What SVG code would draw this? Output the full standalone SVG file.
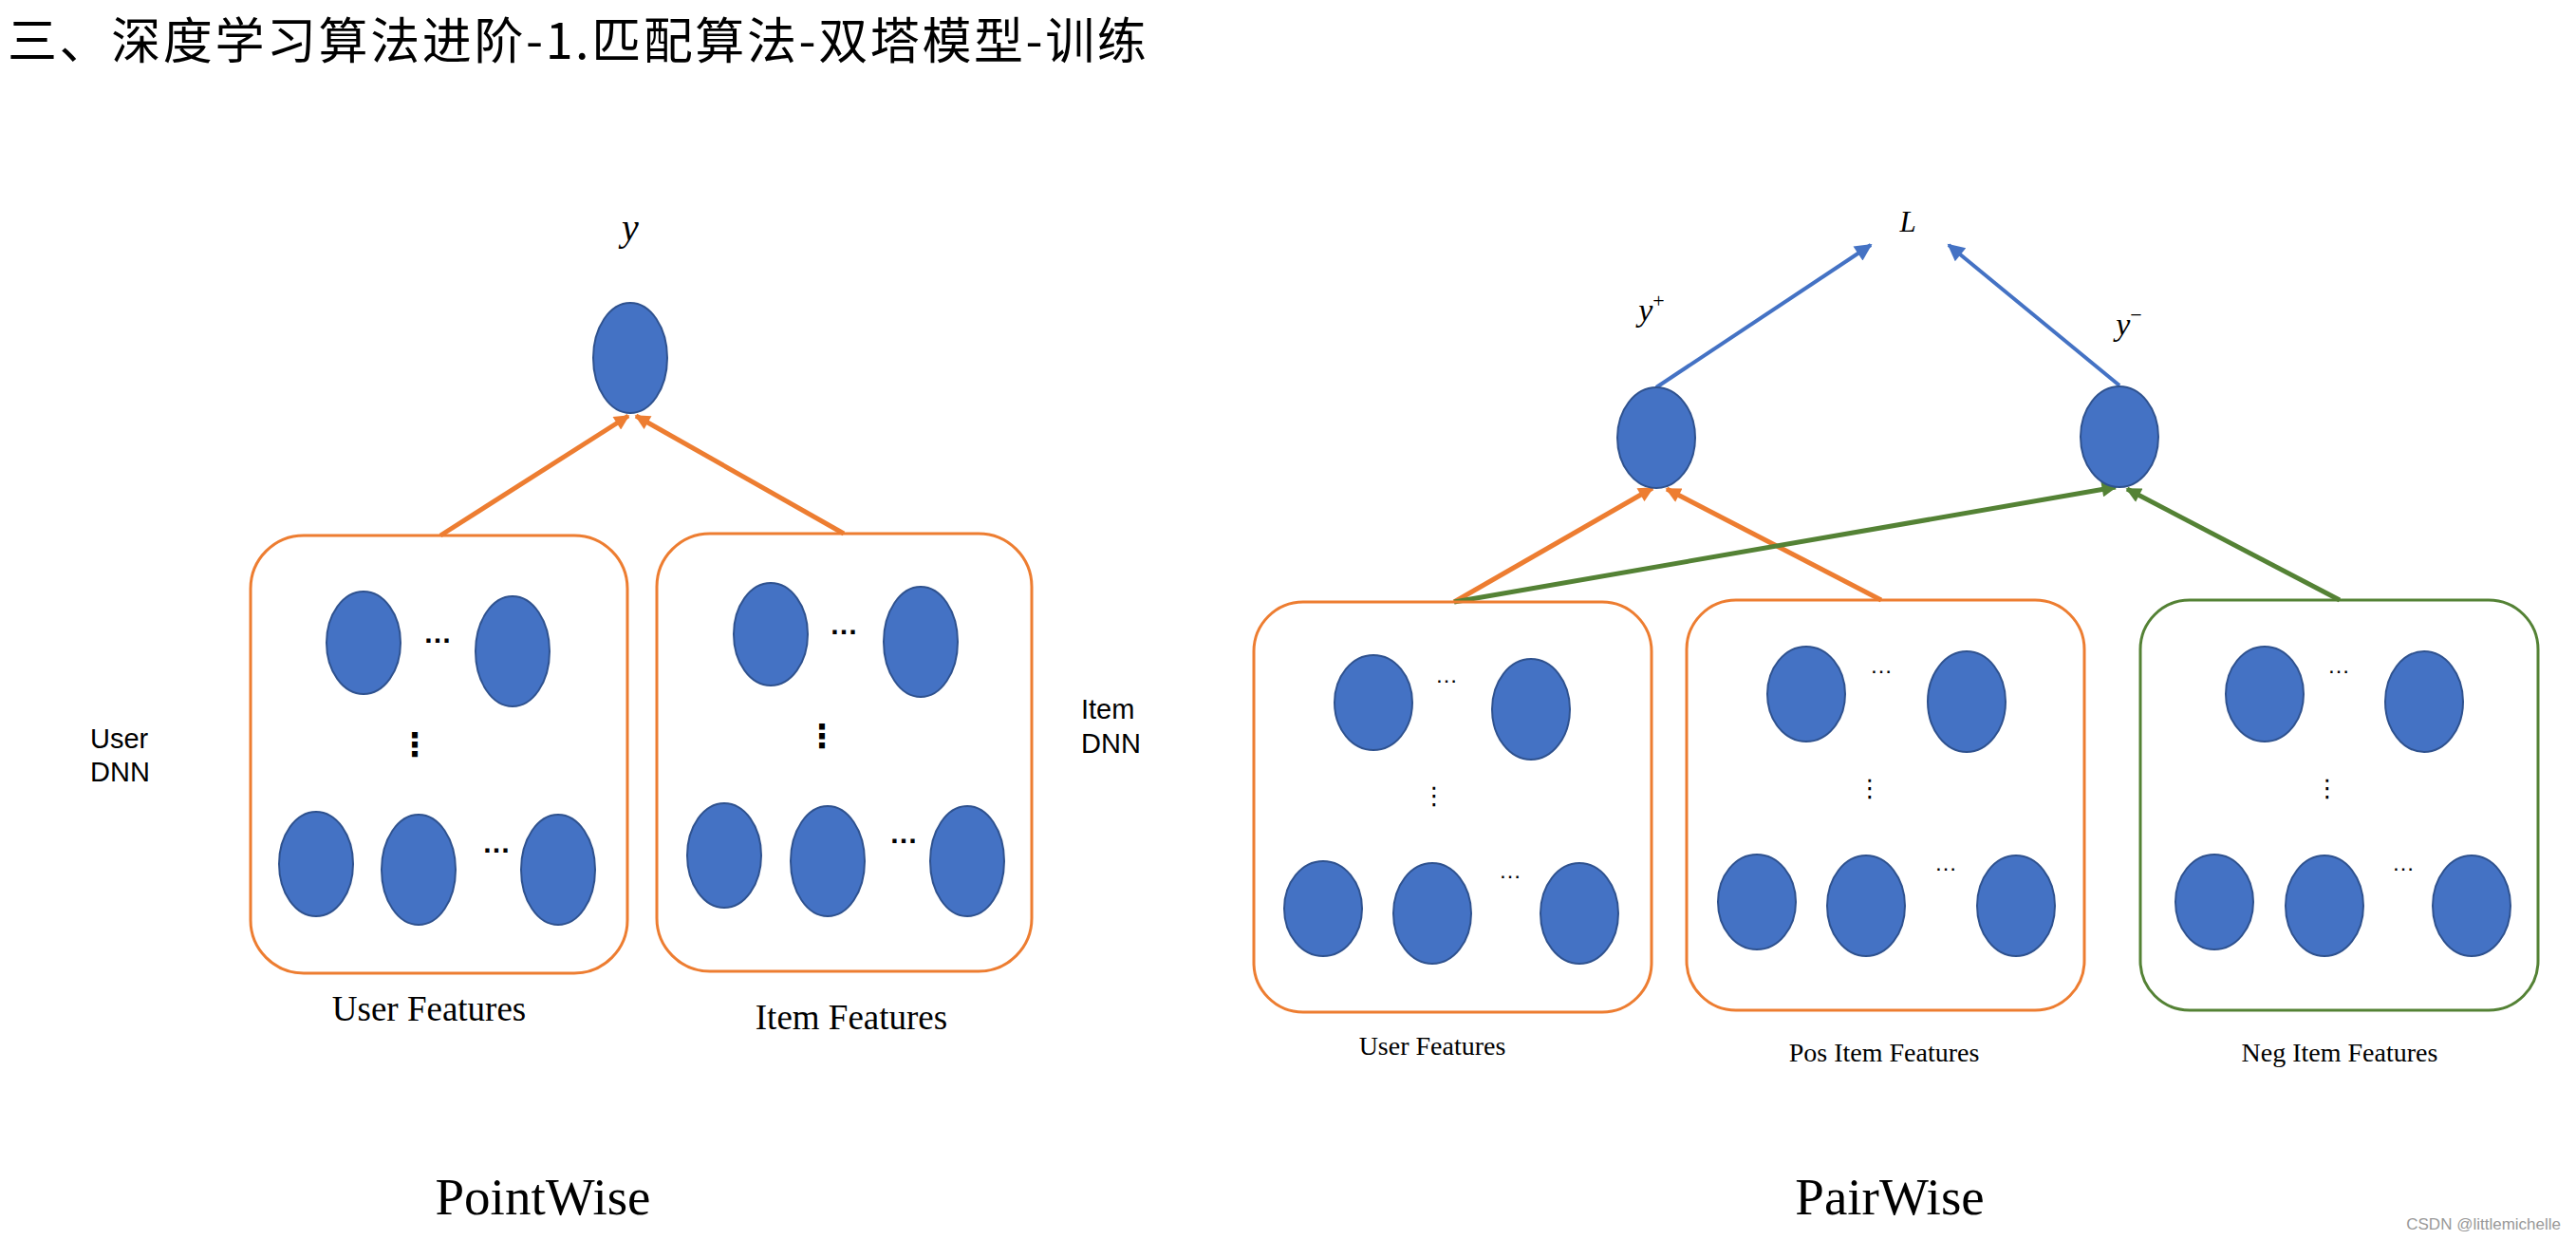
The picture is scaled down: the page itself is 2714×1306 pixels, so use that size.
<svg xmlns="http://www.w3.org/2000/svg" width="2714" height="1306" viewBox="0 0 2714 1306">
<defs>
<style>
.n{fill:#4472C4;stroke:#2F528F;stroke-width:2}
.bo{fill:none;stroke:#ED7D31;stroke-width:3}
.bg{fill:none;stroke:#548235;stroke-width:3}
.ao{stroke:#ED7D31;stroke-width:5;fill:none}
.ag{stroke:#548235;stroke-width:5;fill:none}
.ab{stroke:#4472C4;stroke-width:4;fill:none}
.hd{font-family:"Liberation Sans",sans-serif;font-size:30px;font-weight:bold;fill:#000;text-anchor:middle}
.vd{font-family:"DejaVu Sans",sans-serif;font-size:34px;font-weight:bold;fill:#000;text-anchor:middle}
.hd2{font-family:"Liberation Sans",sans-serif;font-size:24px;fill:#000;text-anchor:middle}
.vd2{font-family:"DejaVu Sans",sans-serif;font-size:26px;fill:#000;text-anchor:middle}
.lab{font-family:"Liberation Serif",serif;font-size:37px;fill:#000;text-anchor:middle}
.lab2{font-family:"Liberation Serif",serif;font-size:28px;fill:#000;text-anchor:middle}
.dnn{font-family:"Liberation Sans",sans-serif;font-size:29px;fill:#000}
.math{font-family:"Liberation Serif",serif;font-style:italic;fill:#000;text-anchor:middle}
.big{font-family:"Liberation Serif",serif;font-size:55px;fill:#000;text-anchor:middle}
</style>
<marker id="mo" viewBox="0 0 10 10" refX="9" refY="5" markerWidth="18" markerHeight="16" markerUnits="userSpaceOnUse" orient="auto"><path d="M0,0 L10,5 L0,10 z" fill="#ED7D31"/></marker>
<marker id="mg" viewBox="0 0 10 10" refX="9" refY="5" markerWidth="18" markerHeight="16" markerUnits="userSpaceOnUse" orient="auto"><path d="M0,0 L10,5 L0,10 z" fill="#548235"/></marker>
<marker id="mb" viewBox="0 0 10 10" refX="9" refY="5" markerWidth="20" markerHeight="18" markerUnits="userSpaceOnUse" orient="auto"><path d="M0,0 L10,5 L0,10 z" fill="#4472C4"/></marker>
</defs>
<rect width="2714" height="1306" fill="#fff"/>
<text x="8" y="62" font-family="'Noto Sans CJK SC',sans-serif" font-size="52" letter-spacing="2.6" fill="#000">三、深度学习算法进阶-1.匹配算法-双塔模型-训练</text>

<g id="connectors">
<line class="ao" x1="464" y1="564" x2="662" y2="438" marker-end="url(#mo)"/>
<line class="ao" x1="889" y1="562" x2="670" y2="438" marker-end="url(#mo)"/>
<line class="ab" x1="1745" y1="408" x2="1971" y2="258" marker-end="url(#mb)"/>
<line class="ab" x1="2233" y1="406" x2="2053" y2="258" marker-end="url(#mb)"/>
<line class="ao" x1="1532" y1="634" x2="1741" y2="514" marker-end="url(#mo)"/>
<line class="ao" x1="1982" y1="632" x2="1756" y2="515" marker-end="url(#mo)"/>
<line class="ag" x1="1532" y1="634" x2="2229" y2="513" marker-end="url(#mg)"/>
<line class="ag" x1="2465" y1="632" x2="2241" y2="515" marker-end="url(#mg)"/>
</g>

<g id="pw-output">
<ellipse class="n" cx="664" cy="377" rx="39" ry="58"/>
<text class="math" x="664" y="253" font-size="40">y</text>
</g>

<g id="pw-user">
<rect class="bo" x="264" y="564" width="397" height="461" rx="56"/>
<ellipse class="n" cx="383" cy="677" rx="39" ry="54"/>
<ellipse class="n" cx="540" cy="686" rx="39" ry="58"/>
<ellipse class="n" cx="333" cy="910" rx="39" ry="55"/>
<ellipse class="n" cx="441" cy="916" rx="39" ry="58"/>
<ellipse class="n" cx="588" cy="916" rx="39" ry="58"/>
<text class="hd" x="461" y="677">…</text>
<text class="hd" x="523" y="898">…</text>
<text class="vd" x="437" y="796">⋮</text>
<text class="lab" x="452" y="1075">User Features</text>
</g>

<g id="pw-item">
<rect class="bo" x="692" y="562" width="395" height="461" rx="56"/>
<ellipse class="n" cx="812" cy="668" rx="39" ry="54"/>
<ellipse class="n" cx="970" cy="676" rx="39" ry="58"/>
<ellipse class="n" cx="763" cy="901" rx="39" ry="55"/>
<ellipse class="n" cx="872" cy="907" rx="39" ry="58"/>
<ellipse class="n" cx="1019" cy="907" rx="39" ry="58"/>
<text class="hd" x="889" y="668">…</text>
<text class="hd" x="952" y="888">…</text>
<text class="vd" x="866" y="787">⋮</text>
<text class="lab" x="897" y="1084">Item Features</text>
</g>

<g id="labels-dnn">
<text class="dnn" x="95" y="788">User</text>
<text class="dnn" x="95" y="823">DNN</text>
<text class="dnn" x="1139" y="757">Item</text>
<text class="dnn" x="1139" y="793">DNN</text>
</g>

<g id="pr-loss">
<text class="math" x="2010" y="244" font-size="31">L</text>
</g>

<g id="pr-ypos">
<ellipse class="n" cx="1745" cy="461" rx="41" ry="53"/>
<text class="math" x="1740" y="338" font-size="34">y<tspan font-style="normal" font-size="22" dy="-14">+</tspan></text>
</g>

<g id="pr-yneg">
<ellipse class="n" cx="2233" cy="460" rx="41" ry="53"/>
<text class="math" x="2243" y="353" font-size="34">y<tspan font-style="normal" font-size="22" dy="-14">−</tspan></text>
</g>

<g id="pr-user">
<rect class="bo" x="1321" y="634" width="419" height="432" rx="52"/>
<ellipse class="n" cx="1447" cy="740" rx="41" ry="50"/>
<ellipse class="n" cx="1613" cy="747" rx="41" ry="53"/>
<ellipse class="n" cx="1394" cy="957" rx="41" ry="50"/>
<ellipse class="n" cx="1509" cy="962" rx="41" ry="53"/>
<ellipse class="n" cx="1664" cy="962" rx="41" ry="53"/>
<text class="hd2" x="1524" y="719">…</text>
<text class="hd2" x="1591" y="925">…</text>
<text class="vd2" x="1511" y="847">⋮</text>
<text class="lab2" x="1509" y="1111">User Features</text>
</g>

<g id="pr-pos">
<rect class="bo" x="1777" y="632" width="419" height="432" rx="52"/>
<ellipse class="n" cx="1903" cy="731" rx="41" ry="50"/>
<ellipse class="n" cx="2072" cy="739" rx="41" ry="53"/>
<ellipse class="n" cx="1851" cy="950" rx="41" ry="50"/>
<ellipse class="n" cx="1966" cy="954" rx="41" ry="53"/>
<ellipse class="n" cx="2124" cy="954" rx="41" ry="53"/>
<text class="hd2" x="1982" y="709">…</text>
<text class="hd2" x="2050" y="917">…</text>
<text class="vd2" x="1970" y="839">⋮</text>
<text class="lab2" x="1985" y="1118">Pos Item Features</text>
</g>

<g id="pr-neg">
<rect class="bg" x="2255" y="632" width="419" height="432" rx="52"/>
<ellipse class="n" cx="2386" cy="731" rx="41" ry="50"/>
<ellipse class="n" cx="2554" cy="739" rx="41" ry="53"/>
<ellipse class="n" cx="2333" cy="950" rx="41" ry="50"/>
<ellipse class="n" cx="2449" cy="954" rx="41" ry="53"/>
<ellipse class="n" cx="2604" cy="954" rx="41" ry="53"/>
<text class="hd2" x="2464" y="709">…</text>
<text class="hd2" x="2532" y="917">…</text>
<text class="vd2" x="2452" y="839">⋮</text>
<text class="lab2" x="2465" y="1118">Neg Item Features</text>
</g>

<text class="big" x="572" y="1279">PointWise</text>
<text class="big" x="1991" y="1279">PairWise</text>
<text x="2698" y="1295" font-family="'Liberation Sans',sans-serif" font-size="17" fill="#999" text-anchor="end">CSDN @littlemichelle</text>
</svg>
